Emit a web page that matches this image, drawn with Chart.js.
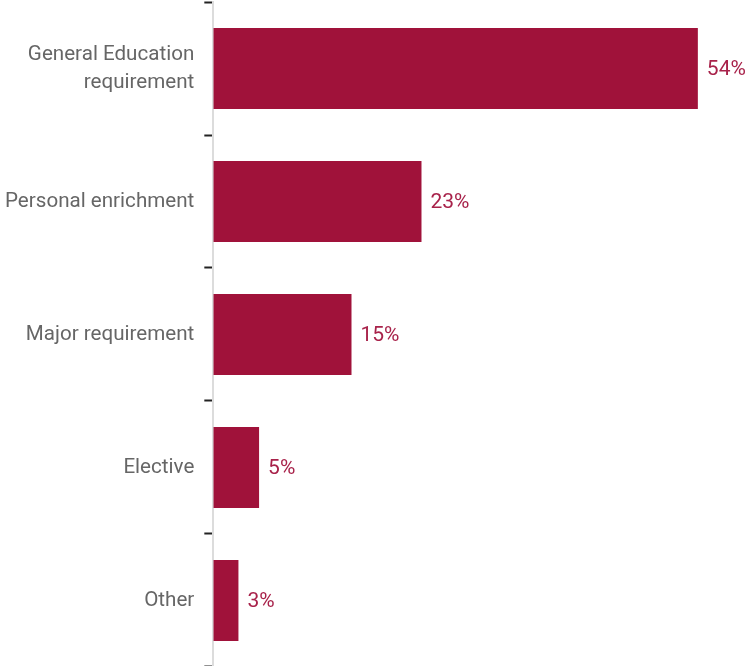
<!DOCTYPE html>
<html>
<head>
<meta charset="utf-8">
<script src="https://cdn.jsdelivr.net/npm/chart.js@4"></script>
<style>
html,body{margin:0;padding:0;background:#fff;overflow:hidden;}
#outer{width:749px;height:666px;position:relative;overflow:hidden;}
#wrap{width:758px;height:666px;position:absolute;left:-9px;top:0;}
</style>
</head>
<body>
<div id="outer"><div id="wrap"><canvas id="c"></canvas></div></div>
<script>
const categories = [["General Education","requirement"], "Personal enrichment", "Major requirement", "Elective", "Other"];
const values = [54, 23.2, 15.4, 5.1, 2.8];
const valueLabels = ["54%", "23%", "15%", "5%", "3%"];

const barColor = '#A0123A';
const labelPlugin = {
  id: 'valueLabels',
  afterDatasetsDraw(chart) {
    const ctx = chart.ctx;
    const meta = chart.getDatasetMeta(0);
    ctx.save();
    ctx.font = '21px Roboto';
    ctx.fillStyle = '#A8224A';
    ctx.textAlign = 'left';
    ctx.textBaseline = 'middle';
    meta.data.forEach((bar, i) => {
      ctx.fillText(valueLabels[i], bar.x + 9, bar.y + 1);
    });
    ctx.restore();
  }
};

const chart = new Chart(document.getElementById('c'), {
  type: 'bar',
  data: {
    labels: categories,
    datasets: [{
      data: values,
      backgroundColor: barColor,
      borderWidth: 0,
      barPercentage: 0.61,
      categoryPercentage: 1.0
    }]
  },
  options: {
    indexAxis: 'y',
    responsive: true,
    maintainAspectRatio: false,
    animation: false,
    layout: { padding: { top: 0, left: 4, right: 0, bottom: 0 } },
    plugins: { legend: { display: false }, tooltip: { enabled: false } },
    scales: {
      x: { display: false, min: 0, max: 59.7 },
      y: {
        grid: { drawOnChartArea: false, drawTicks: true, tickLength: 9, tickColor: '#222', tickWidth: 2, offset: true },
        border: { color: '#dcdcdc', width: 2 },
        ticks: { color: '#666', font: { family: 'Roboto', size: 20.6, lineHeight: 1.36 }, padding: 10 }
      }
    }
  },
  plugins: [labelPlugin]
});

// Shift the canvas so the category band spans the full window height, as in the reference
(function fit() {
  const a = chart.chartArea;
  const h0 = chart.height;
  const padBottom = h0 - a.bottom;
  const off = a.top - 2;
  const H = 667 + off + padBottom;
  const wrap = document.getElementById('wrap');
  wrap.style.top = (-off) + 'px';
  wrap.style.height = H + 'px';
  chart.resize(758, H);
})();
</script>
</body>
</html>
